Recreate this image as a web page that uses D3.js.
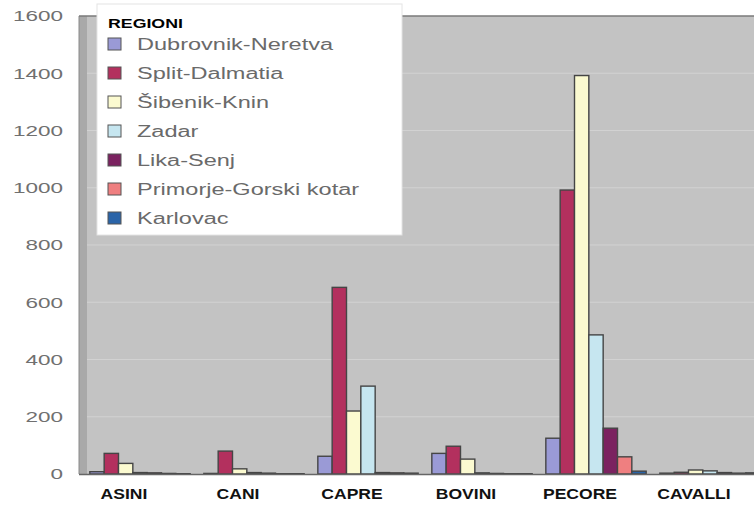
<!DOCTYPE html>
<html>
<head>
<meta charset="utf-8">
<script src="https://cdn.jsdelivr.net/npm/d3@7"></script>
<style>
  body { margin: 0; background: #fff; }
  svg { display: block; }
</style>
</head>
<body>
<div id="chart-area"></div>
<script>
// categories and series
var animals = ["ASINI", "CANI", "CAPRE", "BOVINI", "PECORE", "CAVALLI"];
var regions = ["Dubrovnik-Neretva", "Split-Dalmatia", "Šibenik-Knin", "Zadar", "Lika-Senj", "Primorje-Gorski kotar", "Karlovac"];
var regionColors = ["#9a9ad6", "#b3305e", "#fbfad0", "#c6e6f0", "#7b2260", "#ef7f80", "#2a64a8"];

// values per region, in order of animals
var dubrovnik = [8, 2, 62, 72, 125, 3];
var split     = [72, 80, 652, 97, 992, 6];
var sibenik   = [37, 18, 220, 52, 1392, 14];
var zadar     = [5, 5, 307, 4, 486, 11];
var lika      = [4, 3, 5, 2, 160, 5];
var primorje  = [2, 1, 4, 1, 60, 3];
var karlovac  = [1, 1, 3, 1, 10, 4];
var series = [dubrovnik, split, sibenik, zadar, lika, primorje, karlovac];

var yTicks = [0, 200, 400, 600, 800, 1000, 1200, 1400, 1600];

var W = 754, H = 505;
var plotLeft = 83, plotTop = 16, plotBottom = 474;
var font = "Liberation Sans, Arial, sans-serif";

var svg = d3.select("#chart-area")
    .append("svg")
    .attr("width", W)
    .attr("height", H);

svg.append("rect").attr("width", W).attr("height", H).attr("fill", "#fff");

// Scales
var x = d3.scaleBand()
    .domain(animals)
    .range([plotLeft, plotLeft + 6 * 114])
    .paddingInner(0.12)
    .paddingOuter(0.06);

var xInner = d3.scaleBand()
    .domain(regions)
    .range([0, x.bandwidth()]);

var y = d3.scaleLinear()
    .domain([0, 1600])
    .range([plotBottom, plotTop]);

// plot background
svg.append("rect")
    .attr("x", plotLeft).attr("y", plotTop)
    .attr("width", W - plotLeft).attr("height", plotBottom - plotTop)
    .attr("fill", "#c3c3c3");

// left wall (3d look)
svg.append("rect")
    .attr("x", 79).attr("y", plotTop)
    .attr("width", 8).attr("height", plotBottom - plotTop)
    .attr("fill", "#a9a9a9");
svg.append("line")
    .attr("x1", 79).attr("x2", 79).attr("y1", plotTop).attr("y2", plotBottom)
    .attr("stroke", "#8a8a8a");

// top line
svg.append("line")
    .attr("x1", 79).attr("x2", W).attr("y1", plotTop).attr("y2", plotTop)
    .attr("stroke", "#7a7a7a").attr("stroke-width", 1.5);

// gridlines
svg.append("g")
    .selectAll("line")
    .data(yTicks.slice(1, -1))
    .enter().append("line")
    .attr("x1", 87).attr("x2", W)
    .attr("y1", function(d) { return y(d); })
    .attr("y2", function(d) { return y(d); })
    .attr("stroke", "#d2d2d2");

// y axis labels (the source picture is stretched sideways)
var yAxis = svg.append("g")
    .attr("transform", "translate(63,0)")
    .call(d3.axisLeft(y).tickValues(yTicks).tickFormat(d3.format("d")).tickSize(0).tickPadding(0));
yAxis.select(".domain").remove();
yAxis.selectAll("text")
    .attr("font-family", font)
    .attr("font-size", 15)
    .attr("fill", "#707070")
    .attr("transform", "scale(1.5,1)");

// bars
var groups = svg.append("g")
    .selectAll("g")
    .data(animals)
    .enter().append("g")
    .attr("transform", function(d) { return "translate(" + x(d) + ",0)"; });

groups.selectAll("rect")
    .data(function(d, i) {
        return regions.map(function(r, j) { return { region: r, value: series[j][i], c: regionColors[j] }; });
    })
    .enter().append("rect")
    .attr("x", function(d) { return xInner(d.region); })
    .attr("y", function(d) { return y(d.value); })
    .attr("width", xInner.bandwidth())
    .attr("height", function(d) { return plotBottom - y(d.value); })
    .attr("fill", function(d) { return d.c; })
    .attr("stroke", "#454545")
    .attr("stroke-width", 1.4);

// floor line
svg.append("line")
    .attr("x1", 79).attr("x2", W).attr("y1", plotBottom + 0.5).attr("y2", plotBottom + 0.5)
    .attr("stroke", "#666").attr("stroke-width", 1.5);

// x labels
svg.append("g")
    .selectAll("text")
    .data(animals)
    .enter().append("text")
    .attr("transform", function(d) {
        return "translate(" + (x(d) + x.bandwidth() / 2 - 16) + ",499) scale(1.17,1)";
    })
    .attr("text-anchor", "middle")
    .attr("font-family", font)
    .attr("font-weight", "bold")
    .attr("font-size", 15)
    .attr("fill", "#111")
    .text(function(d) { return d; });

// legend
var legend = svg.append("g");
legend.append("rect")
    .attr("x", 97).attr("y", 4)
    .attr("width", 305).attr("height", 231)
    .attr("fill", "#fff")
    .attr("stroke", "#e4e4e4");
legend.append("text")
    .attr("transform", "translate(108,28) scale(1.42,1)")
    .attr("font-family", font)
    .attr("font-weight", "bold")
    .attr("font-size", 12.5)
    .attr("fill", "#000")
    .text("REGIONI");

var items = legend.selectAll(".item")
    .data(regions)
    .enter().append("g")
    .attr("class", "item")
    .attr("transform", function(d, i) { return "translate(108," + (44 + i * 29) + ")"; });
items.append("rect")
    .attr("x", 0).attr("y", -6)
    .attr("width", 13).attr("height", 12)
    .attr("fill", function(d, i) { return regionColors[i]; })
    .attr("stroke", "#555");
items.append("text")
    .attr("transform", "translate(29,6) scale(1.47,1)")
    .attr("font-family", font)
    .attr("font-size", 16)
    .attr("fill", "#6a6a6a")
    .text(function(d) { return d; });
</script>
</body>
</html>
